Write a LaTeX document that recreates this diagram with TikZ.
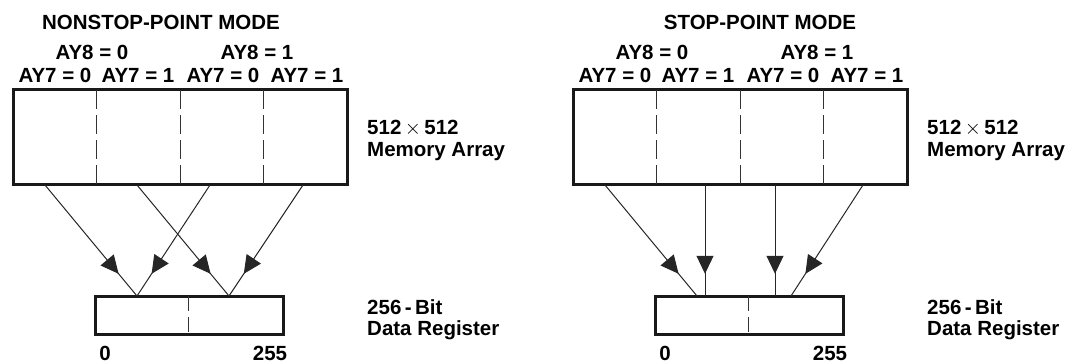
\documentclass[tikz,border=0pt]{standalone}
\usepackage{fontspec}
\setmainfont{Liberation Sans}
\usetikzlibrary{arrows.meta,decorations.markings}
\tikzset{
  boxline/.style={draw=black!90, line width=3pt, line join=miter},
  divline/.style={draw=black!80, line width=1pt, dash pattern=on 19pt off 6pt},
  regdiv/.style={draw=black!80, line width=1pt, dash pattern=on 15pt off 6pt},
  conn/.style={draw=black!85, line width=1pt,
    decoration={markings, mark=at position 0.8 with {\arrow{Triangle[length=18pt,width=17pt]}}},
    postaction={decorate}},
  lbl/.style={font=\fontsize{20.5}{24}\selectfont\bfseries, inner sep=0pt},
}
\begin{document}
\begin{tikzpicture}[x=1pt,y=-1pt]
\useasboundingbox (0,0) rectangle (1065,363);
\foreach \dx/\side/\title/\tx in {0/L/NONSTOP-POINT MODE/161, 560/R/STOP-POINT MODE/200}{
  \begin{scope}[xshift=\dx pt]
  % title and column labels
  \node[lbl] (title\side) at (\tx,22) {\title};
  \node[lbl] (ay8a\side) at (92,52) {AY8 = 0};
  \node[lbl] (ay8b\side) at (257,52) {AY8 = 1};
  \node[lbl] (ay7a\side) at (55,75) {AY7 = 0};
  \node[lbl] (ay7b\side) at (138,75) {AY7 = 1};
  \node[lbl] (ay7c\side) at (223,75) {AY7 = 0};
  \node[lbl] (ay7d\side) at (307,75) {AY7 = 1};
  % memory array
  \node[boxline, minimum width=334pt, minimum height=95pt, inner sep=0pt] (mem\side) at (180,137.5) {};
  \draw[divline] (96.5,90) -- (96.5,185);
  \draw[divline] (180,90) -- (180,185);
  \draw[divline] (263.5,90) -- (263.5,185);
  \node[lbl, anchor=base west] (m1\side) at (367,135) {512\,$\times$\,512};
  \node[lbl, anchor=base west] (m2\side) at (367,157) {Memory Array};
  % register
  \node[boxline, minimum width=188pt, minimum height=38pt, inner sep=0pt] (reg\side) at (189,315) {};
  \draw[regdiv] (188,296) -- (188,334);
  \node[lbl, anchor=base west] (r1\side) at (367,314) {256\,-\,Bit};
  \node[lbl, anchor=base west] (r2\side) at (367,335) {Data Register};
  \node[lbl] (z\side) at (105,353) {0};
  \node[lbl] (f\side) at (270,353) {255};
  \end{scope}
}
% connector end points, nonstop-point mode
\coordinate (sL1) at (45,185);  \coordinate (eL1) at (137,296);
\coordinate (sL2) at (210,185); \coordinate (eL2) at (137,296);
\coordinate (sL3) at (137,185); \coordinate (eL3) at (229,296);
\coordinate (sL4) at (303,185); \coordinate (eL4) at (229,296);
% stop-point mode
\coordinate (sR1) at (605,185); \coordinate (eR1) at (697,296);
\coordinate (sR2) at (705,185); \coordinate (eR2) at (705,296);
\coordinate (sR3) at (775,185); \coordinate (eR3) at (775,296);
\coordinate (sR4) at (863,185); \coordinate (eR4) at (791,296);
\foreach \s in {L,R}{
  \foreach \i in {1,2,3,4}{
    \draw[conn] (s\s\i) -- (e\s\i);
  }
}
\end{tikzpicture}
\end{document}
